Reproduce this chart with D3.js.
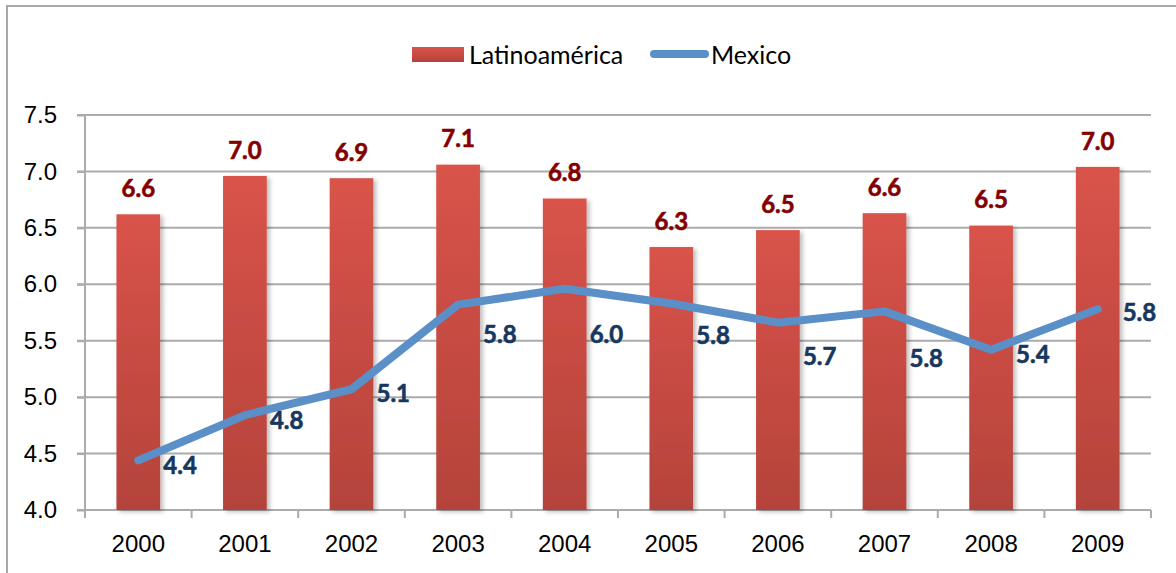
<!DOCTYPE html>
<html lang="es">
<head>
  <meta charset="UTF-8">
  <style>
    html, body { margin: 0; padding: 0; background: #fff; }
    svg { display: block; font-family: Lato, "Open Sans", sans-serif; }
    .grid line { stroke: #ababab; stroke-width: 2; }
    .axis path, .axis line { stroke: #ababab; stroke-width: 2; }
    .axis text { font-size: 24px; fill: #000; }
    .bar-label { font-size: 24px; font-weight: bold; fill: #820000; stroke: #820000; stroke-width: 0.6; text-anchor: middle; }
    .mex-label { font-size: 24px; font-weight: bold; fill: #17375e; stroke: #17375e; stroke-width: 0.6; }
    .legend text { font-size: 25px; fill: #000; }
  </style>
  <script src="https://d3js.org/d3.v7.min.js"></script>
</head>
<body>
  <svg id="chart" width="1176" height="573"></svg>

  <script>
    // years on the category axis
    const years = ["2000", "2001", "2002", "2003", "2004", "2005", "2006", "2007", "2008", "2009"];

    // Latinoamérica (bars)
    const latam = [6.62, 6.96, 6.94, 7.06, 6.76, 6.33, 6.48, 6.63, 6.52, 7.04];

    // Mexico (line)
    const mexico = [4.44, 4.84, 5.07, 5.82, 5.96, 5.83, 5.66, 5.76, 5.42, 5.78];

    // value axis ticks
    const yTicks = [4.0, 4.5, 5.0, 5.5, 6.0, 6.5, 7.0, 7.5];

    // vertical shift of each Mexico label so they don't sit on the line
    const mexLabelShift = [5, 5, 4, 30, 46, 32, 34, 47, 5, 3];

    const svg = d3.select("#chart");

    const plotLeft = 85, plotRight = 1151, plotTop = 115, plotBottom = 510;

    const x = d3.scaleBand().domain(years).range([plotLeft, plotRight]).padding(0);
    const y = d3.scaleLinear().domain([4, 7.5]).range([plotBottom, plotTop]);
    const barW = x.bandwidth() * 0.41;

    // outer chart border
    svg.append("rect")
      .attr("x", 7).attr("y", 6)
      .attr("width", 1200).attr("height", 620)
      .attr("fill", "none")
      .attr("stroke", "#a8a8a8")
      .attr("stroke-width", 2);

    const defs = svg.append("defs");
    const grad = defs.append("linearGradient")
      .attr("id", "barGrad")
      .attr("x1", 0).attr("y1", 0).attr("x2", 0).attr("y2", 1);
    grad.append("stop").attr("offset", "0%").attr("stop-color", "#d9534a");
    grad.append("stop").attr("offset", "100%").attr("stop-color", "#b4433b");

    const shadow = defs.append("filter")
      .attr("id", "barShadow")
      .attr("x", "-20%").attr("y", "-5%").attr("width", "150%").attr("height", "115%");
    shadow.append("feDropShadow")
      .attr("dx", 3).attr("dy", 2).attr("stdDeviation", 2)
      .attr("flood-color", "#000").attr("flood-opacity", 0.25);

    // horizontal gridlines
    svg.append("g")
      .attr("class", "grid")
      .selectAll("line")
      .data(yTicks)
      .join("line")
      .attr("x1", plotLeft - 8).attr("x2", plotRight)
      .attr("y1", d => y(d)).attr("y2", d => y(d));

    // y axis
    const yAxis = svg.append("g")
      .attr("class", "axis")
      .attr("transform", `translate(${plotLeft},0)`)
      .call(d3.axisLeft(y).tickValues(yTicks).tickFormat(d3.format(".1f")).tickSize(8).tickPadding(20));
    yAxis.select(".domain").attr("d", `M0,${plotTop}V${plotBottom}`);

    // x axis with ticks on the category boundaries
    const xAxis = svg.append("g")
      .attr("class", "axis")
      .attr("transform", `translate(0,${plotBottom})`)
      .call(d3.axisBottom(x).tickSize(0).tickPadding(25));
    xAxis.select(".domain").attr("d", `M${plotLeft},0H${plotRight}`);
    xAxis.selectAll(".bound")
      .data(d3.range(years.length + 1))
      .join("line")
      .attr("class", "bound")
      .attr("x1", i => plotLeft + i * x.step()).attr("x2", i => plotLeft + i * x.step())
      .attr("y1", 0).attr("y2", 8);

    // bars
    svg.append("g")
      .selectAll("rect")
      .data(latam)
      .join("rect")
      .attr("x", (d, i) => x(years[i]) + (x.bandwidth() - barW) / 2)
      .attr("y", d => y(d))
      .attr("width", barW)
      .attr("height", d => plotBottom - y(d))
      .attr("fill", "url(#barGrad)")
      .attr("filter", "url(#barShadow)");

    svg.append("g")
      .selectAll("text")
      .data(latam)
      .join("text")
      .attr("class", "bar-label")
      .attr("x", (d, i) => x(years[i]) + x.bandwidth() / 2)
      .attr("y", d => y(d) - 26)
      .attr("dy", "0.36em")
      .text(d => d.toFixed(1));

    // Mexico line
    const line = d3.line()
      .x((d, i) => x(years[i]) + x.bandwidth() / 2)
      .y(d => y(d));

    svg.append("path")
      .datum(mexico)
      .attr("d", line)
      .attr("fill", "none")
      .attr("stroke", "#5b8fc8")
      .attr("stroke-width", 8)
      .attr("stroke-linejoin", "round")
      .attr("stroke-linecap", "round");

    svg.append("g")
      .selectAll("text")
      .data(mexico)
      .join("text")
      .attr("class", "mex-label")
      .attr("x", (d, i) => x(years[i]) + x.bandwidth() / 2 + 25)
      .attr("y", (d, i) => y(d) + mexLabelShift[i])
      .attr("dy", "0.36em")
      .text(d => d.toFixed(1));

    // legend
    const legend = svg.append("g").attr("class", "legend");
    legend.append("rect")
      .attr("x", 412).attr("y", 47)
      .attr("width", 52).attr("height", 15)
      .attr("fill", "url(#barGrad)");
    legend.append("text")
      .attr("x", 469).attr("y", 55).attr("dy", "0.36em")
      .text("Latinoamérica");
    legend.append("line")
      .attr("x1", 654).attr("x2", 705)
      .attr("y1", 54).attr("y2", 54)
      .attr("stroke", "#5b8fc8")
      .attr("stroke-width", 8)
      .attr("stroke-linecap", "round");
    legend.append("text")
      .attr("x", 711).attr("y", 55).attr("dy", "0.36em")
      .text("Mexico");
  </script>
</body>
</html>
